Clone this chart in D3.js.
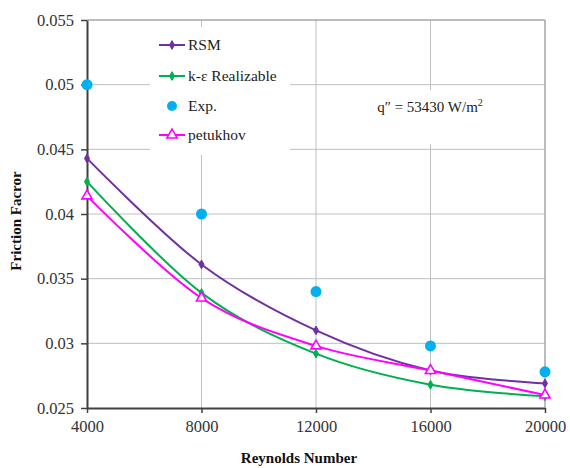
<!DOCTYPE html>
<html><head><meta charset="utf-8">
<script src="https://cdn.jsdelivr.net/npm/d3@7"></script>
<style>body{margin:0;background:#fff}svg{display:block}text{font-family:'Liberation Serif','Times New Roman',serif}</style>
</head><body><svg id="c" width="570" height="468"></svg>
<script>
const reynolds = [4000, 8000, 12000, 16000, 20000];
const rsm = [0.0443, 0.0361, 0.0310, 0.0279, 0.0269];
const kEps = [0.0425, 0.0339, 0.0292, 0.0268, 0.0259];
const exp = [0.0500, 0.0400, 0.0340, 0.0298, 0.0278];
const petukhov = [0.0414, 0.0335, 0.0298, 0.0279, 0.0260];
const xTicks = [4000, 8000, 12000, 16000, 20000];
const yTicks = [0.025, 0.03, 0.035, 0.04, 0.045, 0.05, 0.055];

const svg = d3.select("#c");
const L = 87, R = 545, T = 20, B = 408;
const x = d3.scaleLinear().domain([4000, 20000]).range([L, R]);
const y = d3.scaleLinear().domain([0.025, 0.055]).range([B, T]);
const serif = "'Liberation Serif', 'Times New Roman', serif";

// gridlines
const g = svg.append("g");
g.selectAll(".hg").data(yTicks.slice(1)).enter().append("line")
  .attr("x1", L).attr("x2", R).attr("y1", d => y(d)).attr("y2", d => y(d))
  .attr("stroke", "#bfbfbf").attr("stroke-width", 1);
g.selectAll(".vg").data(xTicks.slice(1)).enter().append("line")
  .attr("x1", d => x(d)).attr("x2", d => x(d)).attr("y1", T).attr("y2", B)
  .attr("stroke", "#bfbfbf").attr("stroke-width", 1);

// legend and annotation backgrounds
svg.append("rect").attr("x", 150).attr("y", 27).attr("width", 140).attr("height", 128).attr("fill", "#fff");
svg.append("rect").attr("x", 362).attr("y", 90).attr("width", 136).attr("height", 54).attr("fill", "#fff");

// axes
const yAxis = svg.append("g").attr("transform", `translate(${L},0)`)
  .call(d3.axisLeft(y).tickValues(yTicks).tickFormat(d => d3.format("")(+d.toFixed(3))).tickSize(6).tickSizeOuter(0));
const xAxis = svg.append("g").attr("transform", `translate(0,${B})`)
  .call(d3.axisBottom(x).tickValues(xTicks).tickFormat(d3.format("d")).tickSize(5).tickSizeOuter(0));
[yAxis, xAxis].forEach(a => {
  a.attr("font-family", serif);
  a.select(".domain").attr("stroke", "#404040").attr("stroke-width", 2);
  a.selectAll(".tick line").attr("stroke", "#404040").attr("stroke-width", 1.5);
  a.selectAll("text").style("font-family", serif).attr("font-size", 16.5).attr("fill", "#333");
});
yAxis.selectAll("text").attr("x", -13);
xAxis.selectAll("text").attr("y", 12);
// top and right borders
svg.append("line").attr("x1", L).attr("x2", R).attr("y1", T).attr("y2", T).attr("stroke", "#9a9a9a");
svg.append("line").attr("x1", R).attr("x2", R).attr("y1", T).attr("y2", B).attr("stroke", "#9a9a9a");

// axis titles
svg.append("text").attr("transform", `translate(21,221) rotate(-90)`).attr("text-anchor", "middle")
  .style("font-family", serif).attr("font-weight", "bold").attr("font-size", 15).attr("fill", "#111")
  .text("Friction Facror");
svg.append("text").attr("x", 299).attr("y", 463).attr("text-anchor", "middle")
  .style("font-family", serif).attr("font-weight", "bold").attr("font-size", 15).attr("fill", "#111")
  .text("Reynolds Number");

// series
const line = d3.line().x((d, i) => x(reynolds[i])).y(d => y(d)).curve(d3.curveCatmullRom.alpha(0));
const series = [
  {name: "RSM", vals: rsm, color: "#7030A0", marker: "diamond"},
  {name: "k-ε Realizable", vals: kEps, color: "#00B050", marker: "diamond"},
  {name: "petukhov", vals: petukhov, color: "#FF00FF", marker: "triangle"}
];
const diamond = d3.symbol().type(d3.symbolDiamond).size(22);
const tri = d3.symbol().type(d3.symbolTriangle).size(45);
series.forEach(s => {
  svg.append("path").attr("d", line(s.vals)).attr("fill", "none").attr("stroke", s.color).attr("stroke-width", 2);
  svg.selectAll(null).data(s.vals).enter().append("path")
    .attr("transform", (d, i) => `translate(${x(reynolds[i])},${y(d)})`)
    .attr("d", s.marker === "diamond" ? diamond() : tri())
    .attr("fill", s.marker === "diamond" ? s.color : "#fff")
    .attr("stroke", s.color).attr("stroke-width", s.marker === "diamond" ? 1 : 1.6);
});
svg.selectAll(null).data(exp).enter().append("circle")
  .attr("cx", (d, i) => x(reynolds[i])).attr("cy", d => y(d)).attr("r", 5.5).attr("fill", "#00B0F0");

// legend
const leg = [
  {name: "RSM", color: "#7030A0", type: "diamond", y: 45},
  {name: "k-ε Realizable", color: "#00B050", type: "diamond", y: 76},
  {name: "Exp.", color: "#00B0F0", type: "circle", y: 106},
  {name: "petukhov", color: "#FF00FF", type: "triangle", y: 135}
];
leg.forEach(l => {
  if (l.type !== "circle") {
    svg.append("line").attr("x1", 159).attr("x2", 185).attr("y1", l.y).attr("y2", l.y).attr("stroke", l.color).attr("stroke-width", 2);
    svg.append("path").attr("transform", `translate(172,${l.y})`)
      .attr("d", l.type === "diamond" ? diamond() : tri())
      .attr("fill", l.type === "diamond" ? l.color : "#fff").attr("stroke", l.color).attr("stroke-width", l.type === "diamond" ? 1 : 1.6);
  } else {
    svg.append("circle").attr("cx", 172).attr("cy", l.y).attr("r", 5).attr("fill", l.color);
  }
  svg.append("text").attr("x", 188).attr("y", l.y).attr("dy", "0.35em")
    .style("font-family", serif).attr("font-size", 15.5).attr("fill", "#222").text(l.name);
});

// annotation
const ann = svg.append("text").attr("x", 430).attr("y", 112).attr("text-anchor", "middle")
  .style("font-family", serif).attr("font-size", 15).attr("fill", "#222");
ann.append("tspan").text("q″ = 53430 W/m");
ann.append("tspan").attr("dy", -6).attr("font-size", 10).text("2");
</script></body></html>
